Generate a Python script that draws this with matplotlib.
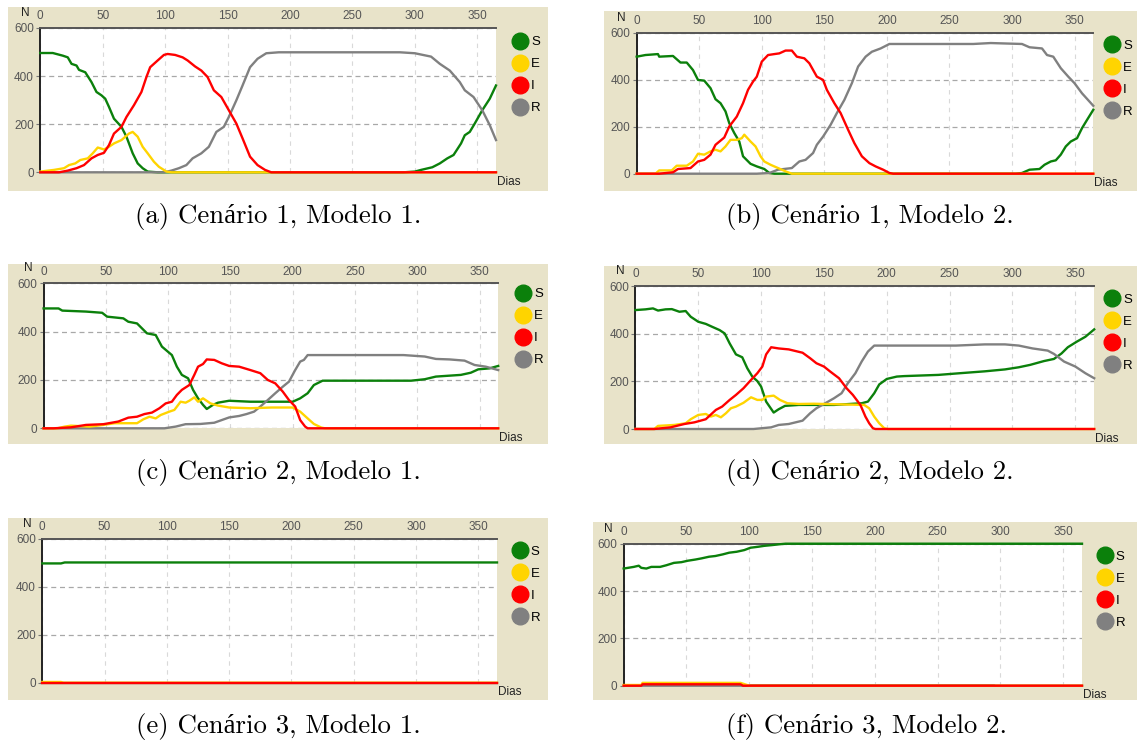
import numpy as np
import matplotlib.pyplot as plt
from matplotlib.lines import Line2D
from matplotlib.patches import Rectangle

plt.rcParams['font.family'] = ['Liberation Sans', 'DejaVu Sans']

# values: (dia, N)
a_S = [(0,496),(10,496),(18,485),(22,478),(25,451),(29,444),(31,426),(36,416),(41,375),(45,334),(49,320),(52,306),(55,272),(59,223),(65,189),(69,148),(74,79),(78,37),(82,17),(86,3),(94,0),(291,0),(300,3),(305,10),(314,21),(320,37),(326,58),(331,72),(337,120),(340,154),(344,168),(348,203),(354,258),(360,306),(365,361)]
a_E = [(0,3),(11,10),(19,17),(23,30),(28,37),(32,51),(38,58),(42,79),(46,103),(51,95),(55,106),(59,120),(65,134),(71,161),(74,168),(78,148),(82,106),(86,79),(91,44),(95,23),(101,3),(105,0),(365,0)]
a_I = [(0,0),(15,0),(22,7),(29,17),(35,30),(41,58),(46,72),(51,81),(55,113),(59,161),(65,189),(69,230),(75,279),(81,334),(85,396),(88,437),(94,465),(99,488),(102,492),(108,488),(114,478),(118,465),(124,440),(129,423),(134,396),(139,341),(145,313),(151,258),(157,203),(162,141),(168,65),(174,30),(180,10),(185,0),(365,0)]
a_R = [(0,0),(99,0),(105,7),(111,17),(117,30),(122,58),(129,79),(135,106),(141,168),(147,189),(151,230),(157,299),(162,361),(168,437),(174,472),(181,495),(191,499),(288,499),(300,495),(313,481),(320,451),(328,423),(336,375),(340,341),(347,313),(354,258),(360,196),(365,134)]

b_S = [(0,498),(7,505),(17,509),(18,498),(29,501),(35,473),(40,473),(45,441),(49,399),(54,396),(59,364),(63,317),(67,300),(71,265),(74,215),(78,173),(82,137),(85,74),(91,42),(96,31),(102,20),(106,3),(110,0),(303,0),(308,3),(314,17),(322,20),(326,38),(331,52),(335,57),(339,81),(343,116),(347,137),(352,151),(356,194),(360,229),(365,272)]
b_E = [(0,0),(15,0),(18,14),(28,14),(32,34),(40,34),(45,52),(49,85),(54,81),(59,95),(63,102),(67,95),(71,116),(75,144),(80,144),(84,151),(86,166),(91,137),(95,116),(99,74),(102,52),(107,38),(113,24),(119,10),(124,0),(365,0)]
b_I = [(0,0),(18,0),(29,6),(33,20),(43,24),(49,52),(54,59),(59,81),(63,123),(70,154),(74,201),(80,243),(85,300),(89,357),(93,392),(96,413),(100,477),(105,505),(110,509),(114,512),(119,524),(124,524),(128,498),(134,491),(138,470),(144,413),(149,399),(152,357),(158,300),(163,258),(169,187),(174,130),(180,74),(186,45),(191,31),(197,17),(202,3),(205,0),(365,0)]
b_R = [(0,0),(96,0),(106,3),(113,17),(124,24),(130,52),(135,59),(141,88),(144,123),(149,158),(155,208),(160,258),(166,314),(172,385),(177,456),(183,498),(188,519),(195,533),(202,552),(269,552),(283,556),(308,552),(314,538),(324,533),(328,505),(333,498),(339,449),(345,413),(350,385),(356,342),(365,289)]

c_S = [(0,496),(12,496),(15,487),(34,483),(47,478),(51,462),(64,455),(68,441),(75,434),(83,393),(90,386),(95,338),(103,303),(107,255),(111,221),(116,207),(120,159),(124,124),(128,97),(131,80),(136,97),(140,106),(149,114),(166,110),(183,110),(200,110),(206,124),(212,145),(217,179),(224,197),(252,197),(295,197),(306,203),(315,214),(335,221),(343,230),(349,244),(358,248),(365,258)]
c_E = [(0,0),(11,0),(17,7),(22,11),(37,7),(48,14),(57,21),(75,21),(80,37),(85,48),(90,41),(94,55),(101,69),(105,76),(110,110),(114,106),(117,114),(121,128),(124,110),(128,124),(134,103),(140,94),(149,86),(166,83),(183,86),(200,86),(206,69),(212,41),(217,18),(223,3),(226,0),(365,0)]
c_I = [(0,0),(8,0),(22,4),(34,14),(48,17),(60,28),(68,44),(75,48),(81,59),(87,65),(93,83),(98,103),(103,110),(107,138),(111,159),(117,179),(121,221),(124,255),(128,266),(131,285),(137,283),(143,269),(149,258),(157,255),(166,241),(174,228),(180,200),(186,186),(192,152),(197,117),(202,90),(206,34),(210,7),(212,0),(365,0)]
c_R = [(0,0),(97,0),(106,7),(114,17),(126,18),(137,23),(143,34),(149,45),(157,51),(163,59),(169,69),(174,90),(180,117),(186,145),(192,172),(197,193),(202,241),(206,276),(209,283),(212,303),(289,303),(306,297),(315,287),(326,285),(338,280),(346,262),(355,255),(365,241)]

d_S = [(0,499),(8,502),(14,506),(18,497),(24,502),(29,503),(35,492),(40,495),(44,471),(50,450),(56,441),(61,429),(67,415),(71,401),(75,359),(80,313),(85,301),(89,255),(93,220),(97,201),(100,178),(104,115),(110,69),(114,83),(119,97),(130,101),(158,101),(180,108),(185,115),(190,150),(194,187),(200,210),(208,220),(214,222),(241,227),(258,234),(278,242),(294,250),(305,259),(314,269),(325,285),(333,294),(339,317),(344,343),(351,366),(358,387),(365,418)]
d_E = [(0,0),(15,0),(18,13),(31,17),(40,24),(44,41),(50,59),(56,63),(60,52),(64,59),(68,49),(72,66),(76,87),(80,94),(86,110),(92,133),(97,122),(101,122),(104,136),(110,140),(115,122),(121,108),(130,105),(142,106),(158,104),(182,101),(186,87),(190,52),(194,24),(198,3),(201,0),(365,0)]
d_I = [(0,0),(15,0),(28,7),(39,21),(47,28),(56,41),(64,80),(69,94),(75,122),(80,143),(86,171),(92,206),(97,234),(101,262),(104,313),(108,343),(114,338),(122,334),(133,320),(139,297),(144,276),(150,262),(155,241),(162,213),(168,171),(173,143),(179,101),(183,52),(186,24),(189,3),(191,0),(365,0)]
d_R = [(0,0),(94,0),(108,7),(114,17),(122,21),(133,35),(139,66),(144,87),(150,105),(158,129),(164,150),(169,192),(175,234),(180,283),(185,325),(190,350),(255,350),(278,355),(294,355),(305,350),(316,338),(328,329),(333,315),(341,283),(350,262),(358,234),(365,213)]

e_S = [(0,497),(15,497),(18,501),(365,501)]
e_E = [(0,3),(15,3),(17,0),(365,0)]
e_I = [(0,0),(365,0)]
e_R = [(0,0),(365,0)]

f_S = [(0,495),(8,502),(12,507),(14,498),(18,495),(22,502),(29,502),(34,509),(40,519),(46,522),(51,528),(57,533),(62,538),(68,545),(73,548),(79,555),(84,562),(90,566),(96,573),(101,583),(107,587),(112,591),(118,594),(123,597),(129,600),(365,600)]
f_E = [(0,3),(14,3),(15,12),(93,12),(100,0),(365,0)]
f_I = [(0,0),(14,0),(15,6),(93,6),(95,0),(365,0)]
f_R = [(0,0),(100,0),(101,2),(295,2),(296,0),(365,0)]

labels = ['S', 'E', 'I', 'R']
colors = ['#0b800b', '#ffd400', '#ff0000', '#808080']
draw_order = [0, 3, 1, 2]   # S, R, E, I: the red line ends up on top at zero
xticks = [0, 50, 100, 150, 200, 250, 300, 350]
yticks = [0, 200, 400, 600]
captions = ['(a) Cenário 1, Modelo 1.', '(b) Cenário 1, Modelo 2.',
            '(c) Cenário 2, Modelo 1.', '(d) Cenário 2, Modelo 2.',
            '(e) Cenário 3, Modelo 1.', '(f) Cenário 3, Modelo 2.']

W, H = 1137, 747
beige = '#e8e3c9'
fig = plt.figure(figsize=(W / 100, H / 100), dpi=100)

# pixel boxes: plot area (l, t, r, b), beige panel (l, t, r, b), caption centre,
# centre of the first legend dot
boxes = [
    ((40.3, 28, 496, 172.3), (8, 6.7, 547.7, 191), (278, 217), (520, 40.7)),
    ((636.7, 32.7, 1093.3, 173.7), (604, 11, 1137, 190.7), (870, 217), (1112, 44.3)),
    ((43.6, 283.3, 498.2, 428.3), (8, 264, 547.5, 444.3), (278, 472), (523, 292.7)),
    ((635.4, 286, 1094.2, 429), (604, 266, 1137, 444.3), (870, 472), (1112, 298.3)),
    ((42.3, 538.7, 497, 682.7), (8, 518.3, 547.5, 700), (278, 727), (519.6, 550)),
    ((623.7, 543.7, 1082, 685.7), (593.3, 522.3, 1137, 700), (866, 727), (1104.6, 555)),
]
series = [(a_S, a_E, a_I, a_R), (b_S, b_E, b_I, b_R), (c_S, c_E, c_I, c_R),
          (d_S, d_E, d_I, d_R), (e_S, e_E, e_I, e_R), (f_S, f_E, f_I, f_R)]

leg_fs = 9.5
half_handle = 0.5 * leg_fs * 100 / 72

for (pl, bg, cap, dot), data, title in zip(boxes, series, captions):
    fig.add_artist(Rectangle((bg[0] / W, 1 - bg[3] / H), (bg[2] - bg[0]) / W, (bg[3] - bg[1]) / H,
                             transform=fig.transFigure, facecolor=beige, edgecolor='none', zorder=-1))
    ax = fig.add_axes([pl[0] / W, 1 - pl[3] / H, (pl[2] - pl[0]) / W, (pl[3] - pl[1]) / H])
    ax.set_facecolor('white')
    for k in draw_order:
        d = np.array(data[k])
        ax.plot(d[:, 0], d[:, 1], color=colors[k], lw=1.7, clip_on=False, zorder=3)
    ax.set_xlim(0, 365)
    ax.set_ylim(0, 600)
    ax.set_xticks(xticks)
    ax.set_yticks(yticks)
    ax.xaxis.tick_top()
    ax.tick_params(axis='x', length=0, pad=4, labelsize=8.5, labelcolor='#555555')
    ax.tick_params(axis='y', length=3, width=0.8, color='#777777', pad=1.5, labelsize=8.5, labelcolor='#555555')
    ax.grid(axis='x', ls=(0, (4, 4)), color='#d9d9d9', lw=0.8)
    ax.grid(axis='y', ls=(0, (4, 3)), color='#a8a8a8', lw=0.9)
    for s in ('right', 'bottom'):
        ax.spines[s].set_visible(False)
    ax.spines['left'].set_color('#222222')
    ax.spines['left'].set_linewidth(1.4)
    ax.spines['top'].set_color('#555555')
    ax.spines['top'].set_linewidth(1.4)
    ax.annotate('N', xy=(0, 1), xycoords='axes fraction', xytext=(-15, 15),
                textcoords='offset pixels', ha='center', va='center', fontsize=8.5, color='#222222')
    ax.annotate('Dias', xy=(1, 0), xycoords='axes fraction', xytext=(1, -9.5),
                textcoords='offset pixels', ha='left', va='center', fontsize=8.5, color='#222222')
    handles = [Line2D([], [], ls='', marker='o', ms=12, color=c) for c in colors]
    pw, ph = pl[2] - pl[0], pl[3] - pl[1]
    ax.legend(handles, labels, loc='upper left',
              bbox_to_anchor=(1 + (dot[0] - half_handle - pl[2]) / pw, 1 - (dot[1] - pl[1] - 4.6) / ph),
              frameon=False, handlelength=1.0, handletextpad=0.35, labelspacing=0.74,
              fontsize=leg_fs, borderaxespad=0, borderpad=0)
    fig.text(cap[0] / W, 1 - cap[1] / H, title, ha='center', va='center', fontsize=19.3,
             family=['cmr10', 'Liberation Serif'])

fig.savefig('out.png', dpi=100)
